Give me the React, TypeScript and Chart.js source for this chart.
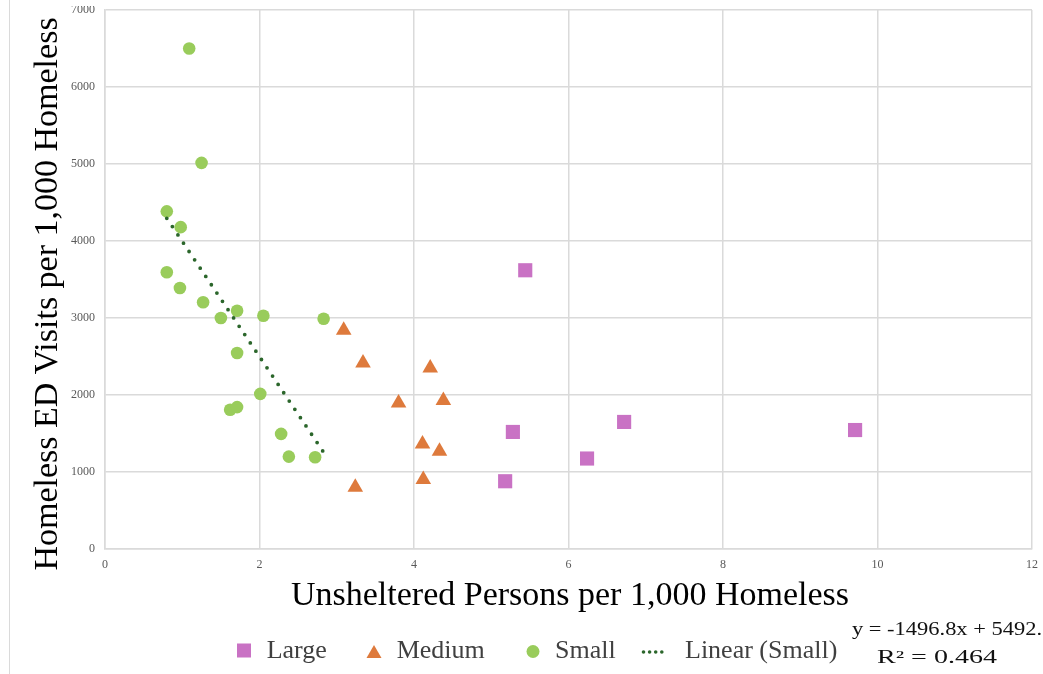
import React, { useEffect, useRef } from "react";
import { Chart, registerables } from "chart.js";

Chart.register(...registerables);

// ---- data ----
const largeX = [5.44, 5.28, 5.18, 6.72, 6.24, 9.71];
const largeY = [3620, 1520, 880, 1650, 1175, 1545];

const mediumX = [3.09, 3.34, 3.24, 3.8, 4.21, 4.38, 4.11, 4.33, 4.12];
const mediumY = [2840, 2415, 802, 1895, 2350, 1930, 1365, 1270, 902];

const smallX = [1.09, 1.25, 0.8, 0.98, 0.8, 0.97, 1.27, 1.5, 1.71, 2.05, 2.83, 1.71, 2.01, 1.62, 1.71, 2.28, 2.38, 2.72];
const smallY = [6500, 5015, 4385, 4180, 3595, 3390, 3205, 3000, 3095, 3030, 2990, 2545, 2015, 1808, 1843, 1495, 1200, 1192];

const trendX = [0.8, 2.83];
const trendY = [4295, 1256];

const xTickValues = [0, 2, 4, 6, 8, 10, 12];
const xTickLabels = ["0", "2", "4", "6", "8", "10", "12"];
const yTickValues = [0, 1000, 2000, 3000, 4000, 5000, 6000, 7000];
const yTickLabels = ["0", "1000", "2000", "3000", "4000", "5000", "6000", "7000"];

const seriesLabels = ["Large", "Medium", "Small", "Linear (Small)"];
const xTitle = "Unsheltered Persons per 1,000 Homeless";
const yTitle = "Homeless ED Visits per 1,000 Homeless";
const eqLine1 = "y = -1496.8x + 5492.";
const eqLine2 = "R² = 0.464";

// ---- styles ----
const PINK = "#C972C4";
const ORANGE = "#DE7A3C";
const GREEN = "#99CC5B";
const DARKGREEN = "#2B662B";
const GRID = "#DADADA";
const SERIF = "'Liberation Serif', 'Times New Roman', serif";

const toPts = (xs: number[], ys: number[]) => xs.map((x, i) => ({ x, y: ys[i] }));

const overlay = {
  id: "overlay",
  afterDraw(chart: any) {
    const ctx: CanvasRenderingContext2D = chart.ctx;
    ctx.save();
    // top crop of the original picture
    ctx.fillStyle = "#ffffff";
    ctx.fillRect(0, 0, chart.width, 6);
    // faint outer frame line on the left
    ctx.strokeStyle = GRID;
    ctx.lineWidth = 1;
    ctx.beginPath();
    ctx.moveTo(9.5, 0);
    ctx.lineTo(9.5, chart.height);
    ctx.stroke();

    // axis titles
    ctx.fillStyle = "#000000";
    ctx.font = `34px ${SERIF}`;
    ctx.textAlign = "center";
    ctx.textBaseline = "alphabetic";
    ctx.fillText(xTitle, 570, 605);
    ctx.save();
    ctx.translate(57, 294);
    ctx.rotate(-Math.PI / 2);
    ctx.fillText(yTitle, 0, 0);
    ctx.restore();

    // legend markers
    ctx.fillStyle = PINK;
    ctx.fillRect(237, 643.5, 14, 14);
    ctx.fillStyle = ORANGE;
    ctx.beginPath();
    ctx.moveTo(374, 645);
    ctx.lineTo(381.5, 658);
    ctx.lineTo(366.5, 658);
    ctx.closePath();
    ctx.fill();
    ctx.fillStyle = GREEN;
    ctx.beginPath();
    ctx.arc(533, 651.5, 6.5, 0, Math.PI * 2);
    ctx.fill();
    ctx.fillStyle = DARKGREEN;
    [643.5, 649.6, 655.7, 661.8].forEach((x) => {
      ctx.beginPath();
      ctx.arc(x, 652, 1.8, 0, Math.PI * 2);
      ctx.fill();
    });

    // legend labels
    ctx.fillStyle = "#404040";
    ctx.font = `26px ${SERIF}`;
    ctx.textAlign = "left";
    ctx.textBaseline = "alphabetic";
    const lx = [266.7, 396.7, 555, 685];
    seriesLabels.forEach((t, i) => ctx.fillText(t, lx[i], 658));

    // trendline equation
    ctx.fillStyle = "#111111";
    ctx.font = `18px ${SERIF}`;
    const drawFit = (t: string, x: number, y: number, w: number) => {
      const m = ctx.measureText(t).width;
      ctx.save();
      ctx.translate(x, y);
      ctx.scale(w / m, 1);
      ctx.fillText(t, 0, 0);
      ctx.restore();
    };
    drawFit(eqLine1, 852, 635, 190);
    drawFit(eqLine2, 877, 663, 120);
    ctx.restore();
  },
};

export default function App() {
  const ref = useRef<HTMLCanvasElement | null>(null);

  useEffect(() => {
    if (!ref.current) return;
    const tickFont = { family: SERIF, size: 12 };
    const chart = new Chart(ref.current, {
      type: "scatter",
      data: {
        datasets: [
          {
            label: seriesLabels[0],
            data: toPts(largeX, largeY),
            pointStyle: "rect",
            pointRadius: 10,
            backgroundColor: PINK,
            borderColor: PINK,
            pointBorderWidth: 0,
          },
          {
            label: seriesLabels[1],
            data: toPts(mediumX, mediumY),
            pointStyle: "triangle",
            pointRadius: 9,
            backgroundColor: ORANGE,
            borderColor: ORANGE,
            pointBorderWidth: 0,
          },
          {
            label: seriesLabels[2],
            data: toPts(smallX, smallY),
            pointStyle: "circle",
            pointRadius: 6.3,
            backgroundColor: GREEN,
            borderColor: GREEN,
            pointBorderWidth: 0,
          },
          {
            type: "line",
            label: seriesLabels[3],
            data: toPts(trendX, trendY),
            borderColor: DARKGREEN,
            borderWidth: 3.8,
            borderDash: [0, 10],
            borderCapStyle: "round",
            pointRadius: 0,
            fill: false,
            showLine: true,
            order: -1,
          } as any,
        ],
      },
      options: {
        responsive: false,
        animation: false,
        devicePixelRatio: 1,
        layout: { padding: { top: 10, right: 11, left: 0, bottom: 0 } },
        plugins: { legend: { display: false }, tooltip: { enabled: false } },
        scales: {
          x: {
            type: "linear",
            min: 0,
            max: 12,
            afterBuildTicks: (s: any) => {
              s.ticks = xTickValues.map((v) => ({ value: v }));
            },
            afterFit: (s: any) => {
              s.height = 125;
              s.paddingLeft = 0;
              s.paddingRight = 0;
            },
            ticks: {
              padding: 9,
              color: "#595959",
              font: tickFont,
              maxRotation: 0,
              callback: (_v: any, i: number) => xTickLabels[i],
            },
            grid: { color: GRID, lineWidth: 1.5, drawTicks: false },
            border: { color: GRID, width: 1.5 },
          },
          y: {
            type: "linear",
            min: 0,
            max: 7000,
            afterBuildTicks: (s: any) => {
              s.ticks = yTickValues.map((v) => ({ value: v }));
            },
            afterFit: (s: any) => {
              s.width = 105;
              s.paddingTop = 0;
              s.paddingBottom = 0;
            },
            ticks: {
              padding: 10,
              color: "#595959",
              font: tickFont,
              callback: (_v: any, i: number) => yTickLabels[i],
            },
            grid: { color: GRID, lineWidth: 1.5, drawTicks: false },
            border: { color: GRID, width: 1.5 },
          },
        },
      } as any,
      plugins: [overlay],
    });
    return () => chart.destroy();
  }, []);

  return (
    <div style={{ position: "absolute", left: 0, top: 0, width: 1043, height: 674, background: "#fff" }}>
      <canvas ref={ref} width={1043} height={674} style={{ display: "block" }} />
    </div>
  );
}
